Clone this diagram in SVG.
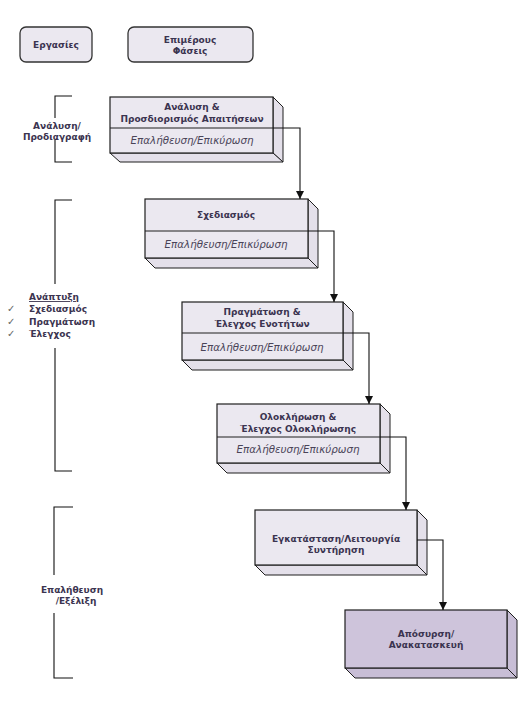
<svg xmlns="http://www.w3.org/2000/svg" width="526" height="703" viewBox="0 0 526 703">
<style>
.t{font-family:"DejaVu Sans",Verdana,sans-serif;font-size:9px;font-weight:bold;fill:#3b3450;text-anchor:middle}
.i{font-family:"DejaVu Sans",Verdana,sans-serif;font-size:10.3px;font-style:italic;fill:#4a4458;text-anchor:middle}
.l{font-family:"DejaVu Sans",Verdana,sans-serif;font-size:9px;font-weight:bold;fill:#3b3450}
.f{fill:#ebe8f0;stroke:#1e1e1e;stroke-width:1.2}
.s{fill:#e4e0ea;stroke:#1e1e1e;stroke-width:1}
.f6{fill:#cec4db;stroke:#1e1e1e;stroke-width:1.2}
.s6{fill:#c8bed6;stroke:#1e1e1e;stroke-width:1}
.c{fill:none;stroke:#111;stroke-width:1.1}
.b{fill:none;stroke:#111;stroke-width:1.1}
.hd{fill:#ebe8f0;stroke:#333;stroke-width:1.3}
.ck{font-family:"DejaVu Sans",sans-serif;font-size:10px;fill:#666}
</style>
<defs>
<marker id="ah" viewBox="0 0 8 8" refX="8" refY="4" markerWidth="8" markerHeight="8" markerUnits="userSpaceOnUse" orient="auto">
<path d="M0,0 L8,4 L0,8 Z" fill="#111"/>
</marker>
</defs>
<rect width="526" height="703" fill="#ffffff"/>

<g id="hdr1"><rect class="hd" x="20" y="27" width="72" height="35" rx="6"/><text class="t" x="56" y="48">Εργασίες</text></g>
<g id="hdr2"><rect class="hd" x="128" y="27" width="125" height="35" rx="6"/><text class="t" x="190" y="43">Επιμέρους</text><text class="t" x="190" y="54">Φάσεις</text></g>

<g id="brackets">
<path class="b" d="M72,96 H55 V118 M55,140 V162 H72"/>
<text class="t" x="57" y="129">Ανάλυση/</text><text class="t" x="57" y="140">Προδιαγραφή</text>
<path class="b" d="M72,200 H55 V284 M55,348 V471 H72"/>
<text class="l" x="29" y="300" text-decoration="underline">Ανάπτυξη</text>
<text class="ck" x="7" y="312">✓</text><text class="l" x="29" y="312">Σχεδιασμός</text>
<text class="ck" x="7" y="325">✓</text><text class="l" x="29" y="325">Πραγμάτωση</text>
<text class="ck" x="7" y="337">✓</text><text class="l" x="29" y="337">Έλεγχος</text>
<path class="b" d="M73,507 H54 V575 M54,613 V678 H73"/>
<text class="t" x="72" y="593">Επαλήθευση</text><text class="t" x="76" y="604">/Εξέλιξη</text>
</g>

<g id="n1">
<polygon class="s" points="273,97 283,107 283,162 273,153"/>
<polygon class="s" points="110,153 273,153 283,162 120,162"/>
<rect class="f" x="110" y="97" width="163" height="56"/>
<line x1="110" y1="128" x2="273" y2="128" stroke="#1e1e1e" stroke-width="1"/>
<text class="t" x="192" y="110">Ανάλυση &amp;</text>
<text class="t" x="192" y="122">Προσδιορισμός Απαιτήσεων</text>
<text class="i" x="192" y="144">Επαλήθευση/Επικύρωση</text>
</g>

<g id="n2">
<polygon class="s" points="308,199 318,209 318,268 308,258"/>
<polygon class="s" points="145,258 308,258 318,268 155,268"/>
<rect class="f" x="145" y="199" width="163" height="59"/>
<line x1="145" y1="231" x2="308" y2="231" stroke="#1e1e1e" stroke-width="1"/>
<text class="t" x="226" y="218">Σχεδιασμός</text>
<text class="i" x="226" y="248">Επαλήθευση/Επικύρωση</text>
</g>

<g id="n3">
<polygon class="s" points="343,302 353,312 353,370 343,360"/>
<polygon class="s" points="182,360 343,360 353,370 192,370"/>
<rect class="f" x="182" y="302" width="161" height="58"/>
<line x1="182" y1="333" x2="343" y2="333" stroke="#1e1e1e" stroke-width="1"/>
<text class="t" x="262" y="315">Πραγμάτωση &amp;</text>
<text class="t" x="262" y="327">Έλεγχος Ενοτήτων</text>
<text class="i" x="262" y="351">Επαλήθευση/Επικύρωση</text>
</g>

<g id="n4">
<polygon class="s" points="380,404 390,414 390,473 380,463"/>
<polygon class="s" points="217,463 380,463 390,473 227,473"/>
<rect class="f" x="217" y="404" width="163" height="59"/>
<line x1="217" y1="437" x2="380" y2="437" stroke="#1e1e1e" stroke-width="1"/>
<text class="t" x="298" y="420">Ολοκλήρωση &amp;</text>
<text class="t" x="298" y="432">Έλεγχος Ολοκλήρωσης</text>
<text class="i" x="298" y="453">Επαλήθευση/Επικύρωση</text>
</g>

<g id="n5">
<polygon class="s" points="417,510 427,520 427,575 417,565"/>
<polygon class="s" points="255,565 417,565 427,575 265,575"/>
<rect class="f" x="255" y="510" width="162" height="55"/>
<text class="t" x="336" y="542">Εγκατάσταση/Λειτουργία</text>
<text class="t" x="336" y="553">Συντήρηση</text>
</g>

<g id="n6">
<polygon class="s6" points="507,610 517,620 517,678 507,668"/>
<polygon class="s6" points="345,668 507,668 517,678 355,678"/>
<rect class="f6" x="345" y="610" width="162" height="58"/>
<text class="t" x="426" y="637">Απόσυρση/</text>
<text class="t" x="426" y="648">Ανακατασκευή</text>
</g>

<g id="connectors">
<path class="c" d="M273,128 H300 V199" marker-end="url(#ah)"/>
<path class="c" d="M308,231 H334 V302" marker-end="url(#ah)"/>
<path class="c" d="M343,333 H369 V404" marker-end="url(#ah)"/>
<path class="c" d="M380,437 H406 V510" marker-end="url(#ah)"/>
<path class="c" d="M417,540 H443 V610" marker-end="url(#ah)"/>
</g>
</svg>
